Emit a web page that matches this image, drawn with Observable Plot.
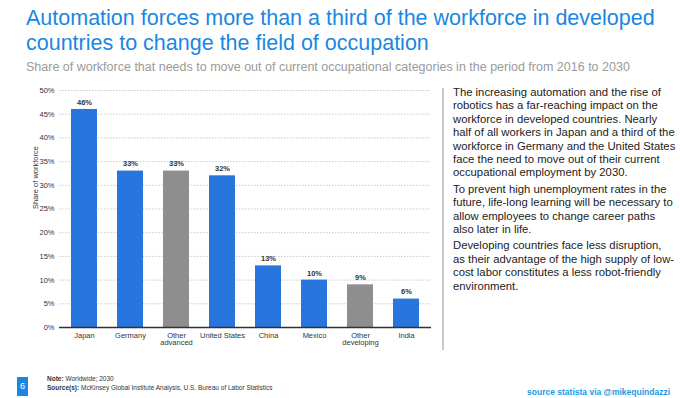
<!DOCTYPE html>
<html><head><meta charset="utf-8">
<script src="https://cdn.jsdelivr.net/npm/d3@7"></script>
<script src="https://cdn.jsdelivr.net/npm/@observablehq/plot@0.6"></script>
<style>
body{margin:0;width:680px;height:398px;position:relative;background:#fff;font-family:Arial,"Liberation Sans",sans-serif;overflow:hidden}
#title{position:absolute;left:26px;top:6px;width:650px;font-size:21.5px;line-height:25px;color:#1a87e3}
#sub{position:absolute;left:26px;top:60px;font-size:12.5px;color:#9a9a9a;white-space:nowrap}
#chart{position:absolute;left:0;top:80px}
#sep{position:absolute;left:442px;top:88px;width:2px;height:262px;background:#c8c8c8}
#text{position:absolute;left:453px;top:86px;width:226px;font-size:11.3px;line-height:13.4px;color:#222;white-space:nowrap}
#text p{margin:0 0 3px 0}
#box{position:absolute;left:17px;top:377px;width:11px;height:19px;background:#1a87e3;color:#fff;font-size:9px;text-align:center;line-height:19px}
#note{position:absolute;left:47px;top:375px;font-size:6.5px;line-height:8.5px;color:#333}
#credit{position:absolute;right:10px;top:387px;font-size:8.5px;font-weight:bold;color:#1a9ae6;white-space:nowrap}
</style></head><body>
<div id="title">Automation forces more than a third of the workforce in developed countries to change the field of occupation</div>
<div id="sub">Share of workforce that needs to move out of current occupational categories in the period from 2016 to 2030</div>
<div id="chart"></div>
<div id="sep"></div>
<div id="text">
<p>The increasing automation and the rise of<br>robotics has a far-reaching impact on the<br>workforce in developed countries. Nearly<br>half of all workers in Japan and a third of the<br>workforce in Germany and the United States<br>face the need to move out of their current<br>occupational employment by 2030.</p>
<p>To prevent high unemployment rates in the<br>future, life-long learning will be necessary to<br>allow employees to change career paths<br>also later in life.</p>
<p>Developing countries face less disruption,<br>as their advantage of the high supply of low-<br>cost labor constitutes a less robot-friendly<br>environment.</p>
</div>
<div id="box">6</div>
<div id="note"><b>Note:</b> Worldwide; 2030<br><b>Source(s):</b> McKinsey Global Institute Analysis, U.S. Bureau of Labor Statistics</div>
<div id="credit">source statista via @mikequindazzi</div>
<script>
const categories = ["Japan","Germany","Other advanced","United States","China","Mexico","Other developing","India"];
const values = [46,33,33,32,13,10,9,6];
const groups = ["country","country","aggregate","country","country","country","aggregate","country"];
const yTicks = [0,5,10,15,20,25,30,35,40,45,50];

const data = categories.map((c,i)=>({cat:c, v:values[i], g:groups[i]}));
const labelMap = {"Other advanced":"Other\nadvanced","Other developing":"Other\ndeveloping"};

const chart = Plot.plot({
  width: 440, height: 270,
  marginTop: 10, marginBottom: 23, marginLeft: 59, marginRight: 9,
  style: {fontFamily: "Arial, 'Liberation Sans', sans-serif", fontSize: "7.5px", color: "#333"},
  x: {domain: categories, paddingInner: 0.43, paddingOuter: 0.22, label: null, tickSize: 0, tickPadding: 5,
      tickFormat: d => labelMap[d] || d},
  y: {domain: [0,50], ticks: yTicks, tickFormat: d => d + "%", label: null, tickSize: 0, tickPadding: 5},
  color: {domain: ["country","aggregate"], range: ["#2876dd","#8e8e8e"]},
  marks: [
    Plot.gridY(yTicks, {stroke: "#bbb", strokeOpacity: 1, strokeDasharray: "1.5,1.5", strokeWidth: 0.8}),
    Plot.barY(data, {x: "cat", y: "v", fill: "g"}),
    Plot.ruleY([0], {stroke: "#333", strokeWidth: 1.5}),
    Plot.text(data, {x: "cat", y: "v", text: d => d.v + "%", dy: -7, fontWeight: "bold", fontSize: 7.5, fill: "#333"}),
    Plot.text(["Share of workforce"], {frameAnchor: "left", dx: -24, rotate: -90, fontSize: 7.5, fill: "#333"})
  ]
});
document.getElementById("chart").appendChild(chart);
</script>
</body></html>
